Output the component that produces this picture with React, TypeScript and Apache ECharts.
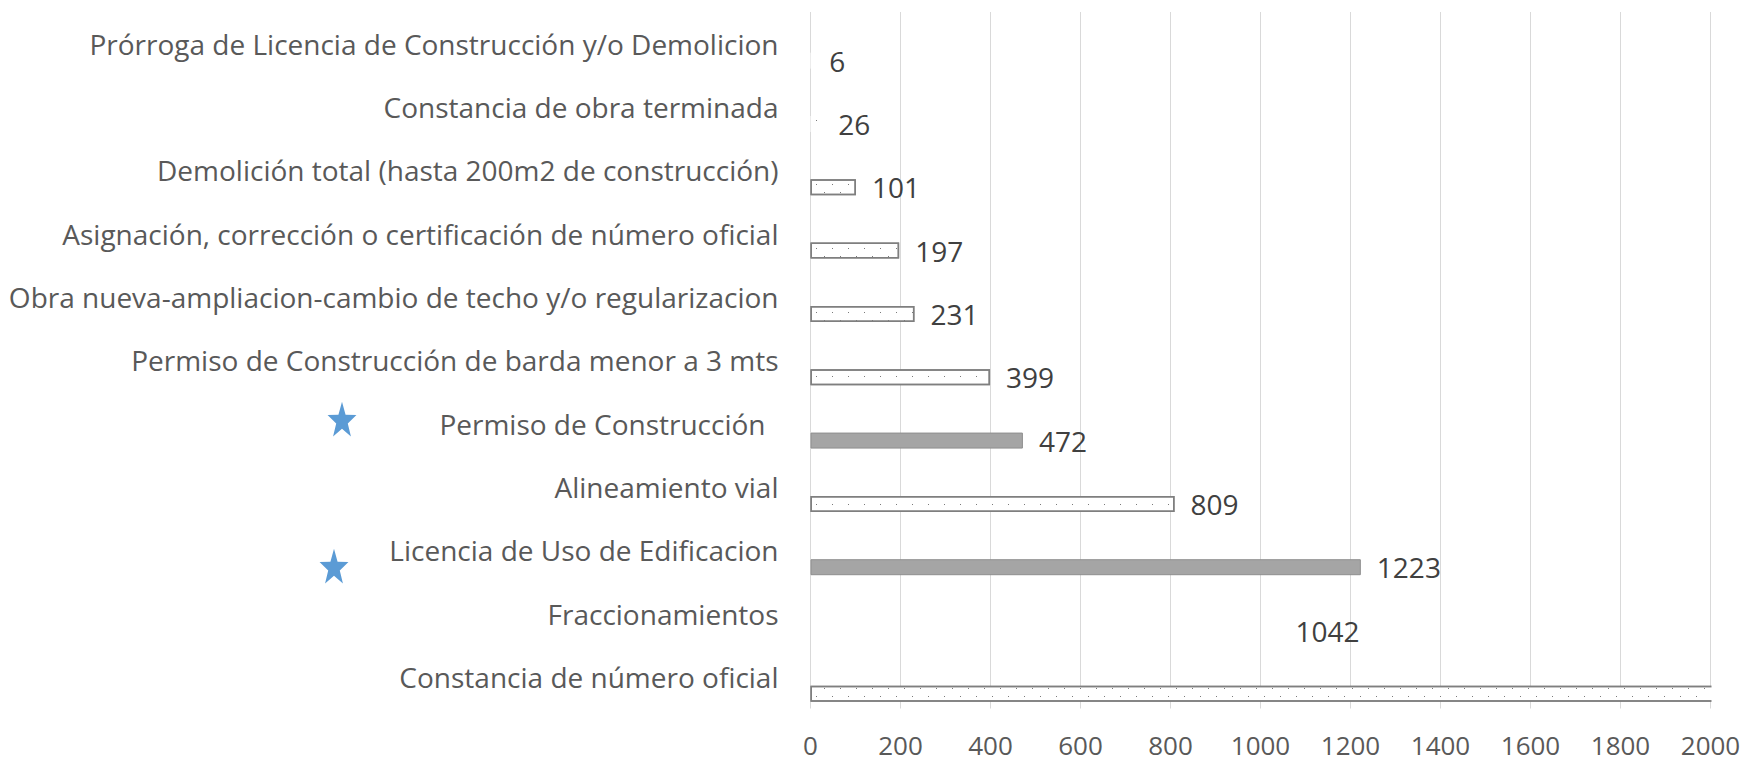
import React, { useEffect, useRef } from 'react';
import * as echarts from 'echarts';

// Categories listed top to bottom as in the reference
const categories = [
  'Prórroga de Licencia de Construcción y/o Demolicion',
  'Constancia de obra terminada',
  'Demolición total (hasta 200m2 de construcción)',
  'Asignación, corrección o certificación de número oficial',
  'Obra nueva-ampliacion-cambio de techo y/o regularizacion',
  'Permiso de Construcción de barda menor a 3 mts',
  'Permiso de Construcción',
  'Alineamiento vial',
  'Licencia de Uso de Edificacion',
  'Fraccionamientos',
  'Constancia de número oficial',
];
// last value runs past the axis end (label not visible in the reference) – estimated
const values = [6, 26, 101, 197, 231, 399, 472, 809, 1223, 1042, 2500];

const solidCategories = ['Permiso de Construcción', 'Licencia de Uso de Edificacion'];
const transparentCategories = ['Fraccionamientos'];
const borderlessCategories = [
  'Prórroga de Licencia de Construcción y/o Demolicion',
  'Constancia de obra terminada',
];
const unlabeledCategories = ['Constancia de número oficial'];
const paddedLabelCategories = ['Permiso de Construcción'];

const axisMin = 0;
const axisMax = 2000;
const axisInterval = 200;

const FONT = '"Open Sans", sans-serif';

function starPoints(cx: number, cy: number, rx: number, ry: number, inner: number) {
  const pts: number[][] = [];
  for (let i = 0; i < 10; i++) {
    const a = -Math.PI / 2 + (i * Math.PI) / 5;
    const k = i % 2 === 0 ? 1 : inner;
    pts.push([cx + Math.cos(a) * rx * k, cy + Math.sin(a) * ry * k]);
  }
  return pts;
}

export default function App() {
  const ref = useRef<HTMLDivElement>(null);

  useEffect(() => {
    if (!ref.current) return;
    const chart = echarts.init(ref.current, null, { renderer: 'svg' });

    const dotDecal = {
      symbol: 'rect',
      symbolSize: 1,
      dashArrayX: [[1, 15], [0, 8, 1, 7]],
      dashArrayY: [1, 7],
      color: '#7a7a7a',
    };

    const seriesData = categories.map((c, i) => {
      const item: any = { value: values[i] };
      if (transparentCategories.includes(c)) {
        item.itemStyle = { color: 'rgba(0,0,0,0)', borderWidth: 0 };
      } else if (solidCategories.includes(c)) {
        item.itemStyle = { color: '#a5a5a5', borderColor: '#8f8f8f', borderWidth: 1 };
      } else {
        const noBorder = borderlessCategories.includes(c);
        item.itemStyle = {
          color: '#ffffff',
          borderColor: noBorder ? 'rgba(0,0,0,0)' : '#7f7f7f',
          borderWidth: noBorder ? 0 : 1.5,
          decal: dotDecal,
        };
      }
      if (unlabeledCategories.includes(c)) item.label = { show: false };
      return item;
    });

    const option: any = {
      animation: false,
      backgroundColor: '#ffffff',
      grid: { left: 810.5, right: 34.5, top: 12, bottom: 54.5, containLabel: false },
      xAxis: {
        type: 'value',
        min: axisMin,
        max: axisMax,
        interval: axisInterval,
        axisLine: { show: false },
        axisTick: { show: false },
        splitLine: { show: true, lineStyle: { color: '#d9d9d9', width: 1 } },
        axisLabel: {
          color: '#595959',
          fontFamily: FONT,
          fontSize: 26,
          margin: 36,
          verticalAlign: 'middle',
          formatter: (v: number) => String(v),
        },
      },
      yAxis: {
        type: 'category',
        inverse: true,
        data: categories,
        axisLine: { show: false },
        axisTick: { show: false },
        splitLine: { show: false },
        axisLabel: {
          color: '#595959',
          fontFamily: FONT,
          fontSize: 28,
          margin: 32,
          formatter: (v: string) => (paddedLabelCategories.includes(v) ? `{pad|${v}}` : v),
          rich: {
            pad: {
              color: '#595959',
              fontFamily: FONT,
              fontSize: 28,
              padding: [0, 13, 0, 0],
            },
          },
        },
      },
      series: [
        {
          type: 'bar',
          name: 'empty',
          data: categories.map(() => null),
          barWidth: 16,
          barGap: '112.5%',
          silent: true,
        },
        {
          type: 'bar',
          name: 'Trámites',
          data: seriesData,
          barWidth: 16,
          barGap: '112.5%',
          clip: false,
          label: {
            show: true,
            position: 'right',
            distance: 16,
            color: '#404040',
            fontFamily: FONT,
            fontSize: 28,
          },
        },
      ],
      graphic: [
        {
          // masks the part of the overflowing bar beyond the plot area
          type: 'rect',
          shape: { x: 1711.5, y: 660, width: 40, height: 60 },
          style: { fill: '#ffffff' },
          z: 100,
          silent: true,
        },
        {
          type: 'polygon',
          shape: { points: starPoints(342, 421, 15.2, 19.3, 0.4) },
          style: { fill: '#5b9bd5' },
          silent: true,
        },
        {
          type: 'polygon',
          shape: { points: starPoints(334, 568, 15.2, 19.3, 0.4) },
          style: { fill: '#5b9bd5' },
          silent: true,
        },
      ],
    };

    chart.setOption(option);
    return () => chart.dispose();
  }, []);

  return (
    <div
      ref={ref}
      style={{ position: 'fixed', left: 0, top: 0, width: 1745, height: 763, background: '#fff' }}
    />
  );
}
